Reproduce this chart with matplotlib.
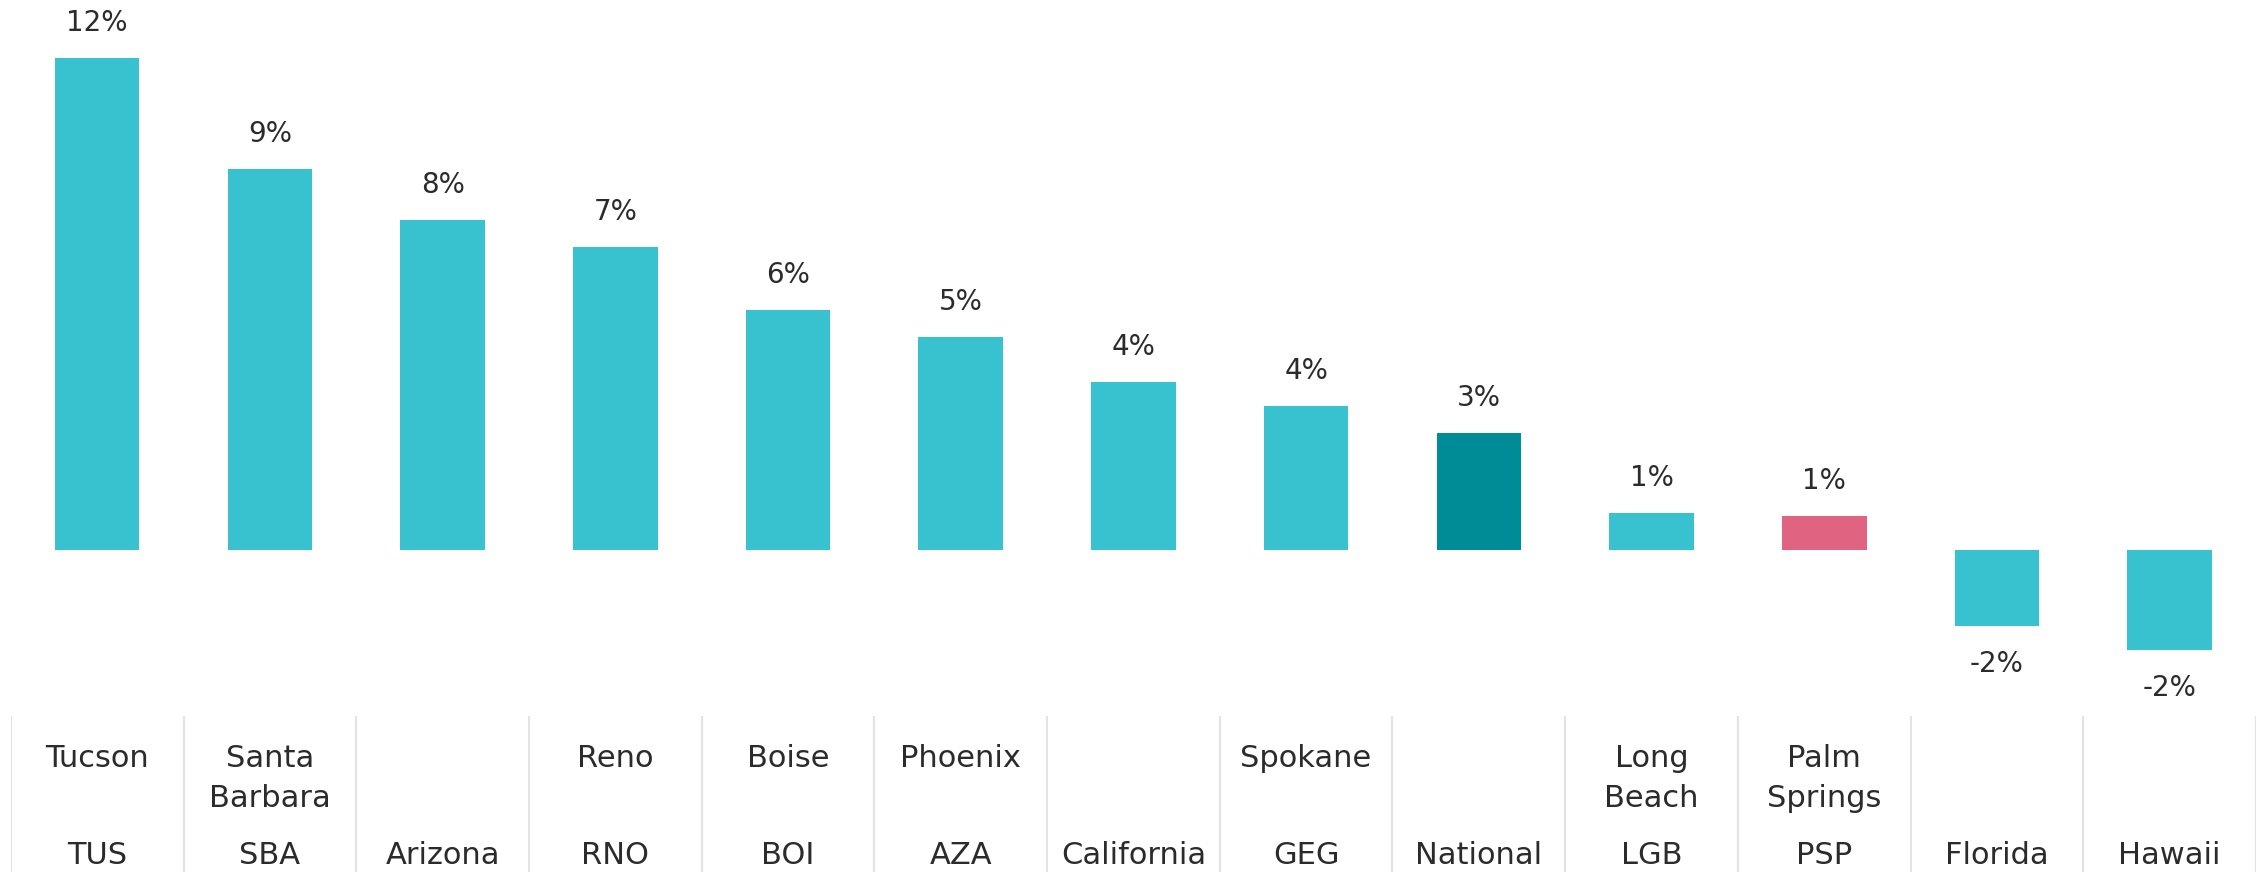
import matplotlib.pyplot as plt

# data #
categories = ["Tucson", "Santa Barbara", "Arizona", "Reno", "Boise", "Phoenix",
              "California", "Spokane", "National", "Long Beach", "Palm Springs",
              "Florida", "Hawaii"]
codes = ["TUS", "SBA", "", "RNO", "BOI", "AZA", "", "GEG", "", "LGB", "PSP", "", ""]
values = [12.0, 9.3, 8.05, 7.4, 5.85, 5.2, 4.1, 3.52, 2.85, 0.9, 0.83, -1.85, -2.45]
bar_colors = ["#38c2cf"] * 8 + ["#008c96", "#38c2cf", "#e06482", "#38c2cf", "#38c2cf"]
##########

plt.rcParams['font.family'] = ['DejaVu Sans']
txt_color = '#2b2b2b'

W, H = 2260, 872
fig = plt.figure(figsize=(W / 100, H / 100), dpi=100)

x0 = 10.8 / W
x1 = 2256 / W
table_top = 716
ax = fig.add_axes([x0, (H - table_top) / H, x1 - x0, table_top / H])

xs = list(range(len(categories)))
ax.bar(xs, values, width=0.49, color=bar_colors)
ax.set_xlim(-0.5, len(categories) - 0.5)
# baseline at pixel 550, 41 px per percent
ax.set_ylim((550 - table_top) / 41, 550 / 41)
ax.axis('off')

for x, v in zip(xs, values):
    if v >= 0:
        ax.annotate(f"{round(v):.0f}%", (x, v), xytext=(0, 21), textcoords='offset pixels',
                    ha='center', va='bottom', fontsize=20, color=txt_color)
    else:
        ax.annotate(f"{round(v):.0f}%", (x, v), xytext=(0, -24), textcoords='offset pixels',
                    ha='center', va='top', fontsize=20, color=txt_color)

# table under the bars
tab = fig.add_axes([x0, 0, x1 - x0, (H - table_top) / H])
tab.set_xlim(-0.5, len(categories) - 0.5)
tab.set_ylim(H, table_top)
tab.axis('off')
for k in range(len(categories) + 1):
    tab.plot([k - 0.5, k - 0.5], [table_top, H], color='#e3e3e3', lw=1.5)

for x, name, code in zip(xs, categories, codes):
    if code:
        for i, line in enumerate(name.split(" ")):
            tab.text(x, 758 + 40 * i, line, ha='center', va='center',
                     fontsize=22, color=txt_color)
        tab.text(x, 855, code, ha='center', va='center', fontsize=22, color=txt_color)
    else:
        tab.text(x, 855, name, ha='center', va='center', fontsize=22, color=txt_color)

plt.savefig('out.png', dpi=100)
